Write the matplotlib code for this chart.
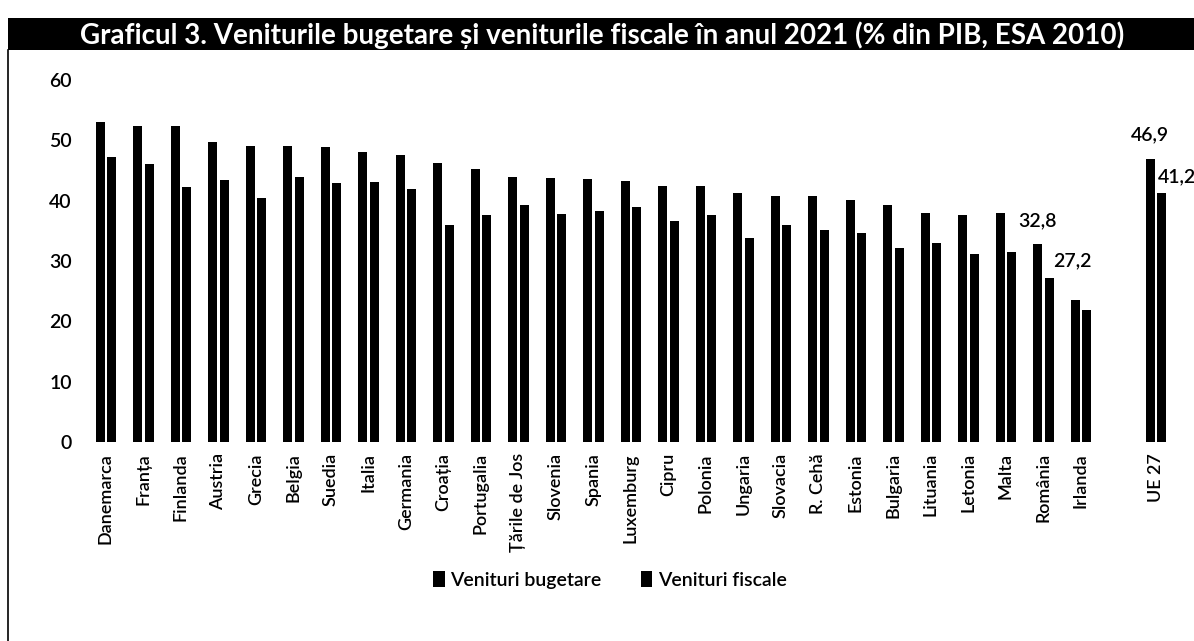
import matplotlib.pyplot as plt
import numpy as np
from matplotlib.patches import Rectangle

plt.rcParams['font.family'] = ['Lato', 'DejaVu Sans']

tari = ['Danemarca', 'Franța', 'Finlanda', 'Austria', 'Grecia', 'Belgia', 'Suedia',
        'Italia', 'Germania', 'Croația', 'Portugalia', 'Țările de Jos', 'Slovenia',
        'Spania', 'Luxemburg', 'Cipru', 'Polonia', 'Ungaria', 'Slovacia', 'R. Cehă',
        'Estonia', 'Bulgaria', 'Lituania', 'Letonia', 'Malta', 'România', 'Irlanda',
        'UE 27']
venituri_bugetare = [53.1, 52.4, 52.3, 49.8, 49.1, 49.1, 48.9, 48.1, 47.6, 46.3, 45.2,
                     44.0, 43.8, 43.6, 43.3, 42.5, 42.5, 41.2, 40.8, 40.7, 40.1, 39.2,
                     37.9, 37.7, 37.9, 32.8, 23.5, 46.9]
venituri_fiscale = [47.3, 46.1, 42.2, 43.4, 40.4, 43.9, 42.9, 43.1, 42.0, 35.9, 37.7,
                    39.2, 37.8, 38.3, 39.0, 36.6, 37.6, 33.8, 36.0, 35.1, 34.7, 32.1,
                    33.0, 31.1, 31.5, 27.2, 21.9, 41.2]
# doar acestea au etichete in grafic
etichete = {'România': (32.8, 27.2), 'UE 27': (46.9, 41.2)}

# UE 27 sta separat, lasam un loc liber
x = np.arange(len(tari), dtype=float)
x[-1] = x[-1] + 1

fig = plt.figure(figsize=(11.94, 6.41), dpi=100)

# banda neagra cu titlul
fig.patches.append(Rectangle((8/1194, 1-50/641), 1-8/1194, 32/641, transform=fig.transFigure,
                             facecolor='black', edgecolor='none'))
fig.text(80/1194, 1-35/641,
         'Graficul 3. Veniturile bugetare și veniturile fiscale în anul 2021 (% din PIB, ESA 2010)',
         color='white', fontsize=20, fontweight='bold', ha='left', va='center')
# chenarul din stanga
fig.add_artist(plt.Line2D([8/1194, 8/1194], [0, 1-50/641], transform=fig.transFigure,
                          color='black', lw=1.2))

ax = fig.add_axes([80/1194, (641-442)/641, 1110/1194, 362/641])
w = 0.24
ax.bar(x - 0.15, venituri_bugetare, width=w, color='black', label='Venituri bugetare')
ax.bar(x + 0.15, venituri_fiscale, width=w, color='black', label='Venituri fiscale')

for i, t in enumerate(tari):
    if t in etichete:
        vb, vf = etichete[t]
        ax.annotate(('%.1f' % vb).replace('.', ','), (x[i] - 0.15, vb), xytext=(0, 11),
                    textcoords='offset points', ha='center', va='bottom', fontsize=14,
                    fontweight='semibold')
        ax.annotate(('%.1f' % vf).replace('.', ','), (x[i] + 0.15, vf),
                    xytext=(17 if t == 'România' else 11, 6),
                    textcoords='offset points', ha='center', va='bottom', fontsize=14,
                    fontweight='semibold')

ax.set_xlim(-0.693, 28.91)
ax.set_ylim(0, 60)
ax.set_yticks(range(0, 61, 10))
ax.set_xticks(x)
ax.set_xticklabels(tari, rotation=90)
ax.tick_params(length=0, labelsize=14)
ax.tick_params(axis='x', labelsize=13, pad=8)
ax.tick_params(axis='y', pad=6)
for lb in ax.get_xticklabels() + ax.get_yticklabels():
    lb.set_fontweight('semibold')
for s in ax.spines.values():
    s.set_visible(False)

leg = ax.legend(loc='center', bbox_to_anchor=(0.5 - 25/1110, -(580-442)/362), ncol=2,
                frameon=False, prop={'size': 14, 'weight': 'semibold'}, handlelength=0.6,
                handleheight=0.9, handletextpad=0.3, columnspacing=2.0)

plt.savefig('out.png', dpi=100)
